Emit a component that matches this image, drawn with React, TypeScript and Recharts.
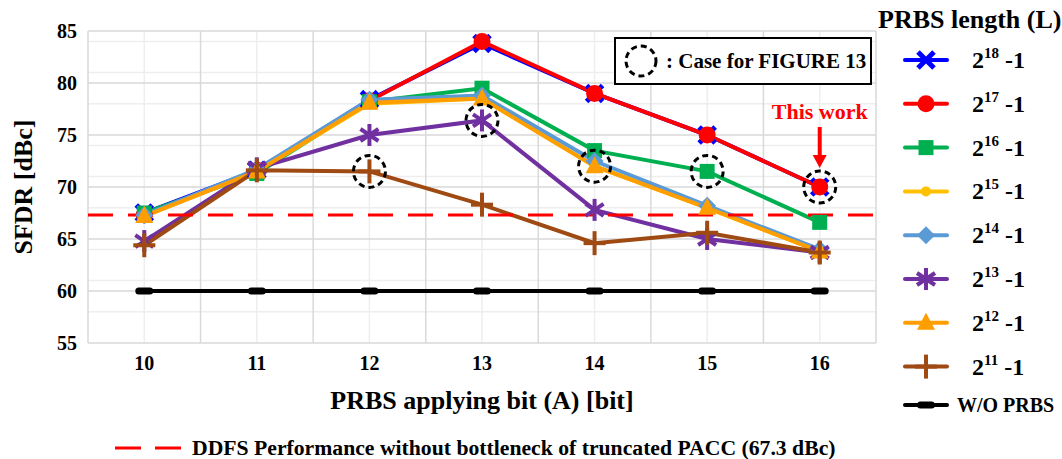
import React from "react";
import { ComposedChart, Line, XAxis, YAxis, CartesianGrid, ReferenceLine, ReferenceDot } from "recharts";

const FONT = '"Liberation Serif", "Times New Roman", serif';

// x categories: PRBS applying bit (A)
const bits = [10, 11, 12, 13, 14, 15, 16];
const bitEdges = [9.5, 10.5, 11.5, 12.5, 13.5, 14.5, 15.5, 16.5];
const yTicks = [55, 60, 65, 70, 75, 80, 85];
const yMinor = [56, 57, 58, 59, 61, 62, 63, 64, 66, 67, 68, 69, 71, 72, 73, 74, 76, 77, 78, 79, 81, 82, 83, 84];

// SFDR [dBc] per PRBS length
const L18 = [67.5, 71.6, 78.4, 83.8, 79.0, 75.0, 70.0];
const L17 = [67.3, 71.6, 78.3, 84.0, 79.0, 75.0, 70.0];
const L16 = [67.5, 71.3, 78.2, 79.5, 73.5, 71.5, 66.6];
const L15 = [67.2, 71.5, 78.0, 78.5, 72.0, 68.0, 63.8];
const L14 = [67.3, 71.7, 78.4, 78.8, 72.5, 68.2, 64.0];
const L13 = [64.8, 71.8, 75.0, 76.4, 67.8, 65.0, 63.7];
const L12 = [67.2, 71.5, 78.1, 78.5, 72.0, 68.0, 63.8];
const L11 = [64.4, 71.6, 71.5, 68.3, 64.6, 65.6, 63.7];
const WO = [60, 60, 60, 60, 60, 60, 60];

const bottleneck = 67.3;

const series = [
  { key: "L18", exp: "18", color: "#0000FF", marker: "x", values: L18 },
  { key: "L17", exp: "17", color: "#FF0000", marker: "circle", values: L17 },
  { key: "L16", exp: "16", color: "#00B050", marker: "square", values: L16 },
  { key: "L15", exp: "15", color: "#FFC000", marker: "dot", values: L15 },
  { key: "L14", exp: "14", color: "#5B9BD5", marker: "diamond", values: L14 },
  { key: "L13", exp: "13", color: "#7030A0", marker: "asterisk", values: L13 },
  { key: "L12", exp: "12", color: "#FF9E00", marker: "triangle", values: L12 },
  { key: "L11", exp: "11", color: "#9E4A12", marker: "plus", values: L11 },
  { key: "WO", exp: "", color: "#000000", marker: "dash", values: WO },
];

// points marked with a dashed circle (cases shown in FIGURE 13)
const circled = [
  { bit: 12, key: "L11" },
  { bit: 13, key: "L13" },
  { bit: 14, key: "L12" },
  { bit: 15, key: "L16" },
  { bit: 16, key: "L17" },
];

const rows = bits.map((bit, i) => {
  const r: any = { bit };
  series.forEach((s) => (r[s.key] = s.values[i]));
  return r;
});

const valueAt = (key: string, bit: number) => {
  const s = series.find((x) => x.key === key)!;
  return s.values[bits.indexOf(bit)];
};

function Marker({ kind, color, cx, cy }: any) {
  switch (kind) {
    case "x":
      return (
        <g stroke={color} strokeWidth={5}>
          <line x1={cx - 8} y1={cy - 8} x2={cx + 8} y2={cy + 8} />
          <line x1={cx - 8} y1={cy + 8} x2={cx + 8} y2={cy - 8} />
        </g>
      );
    case "circle":
      return <circle cx={cx} cy={cy} r={8.5} fill={color} />;
    case "square":
      return <rect x={cx - 7.5} y={cy - 7.5} width={15} height={15} fill={color} />;
    case "dot":
      return <circle cx={cx} cy={cy} r={5} fill={color} />;
    case "diamond":
      return <polygon points={`${cx},${cy - 9} ${cx + 9},${cy} ${cx},${cy + 9} ${cx - 9},${cy}`} fill={color} />;
    case "asterisk":
      return (
        <g stroke={color} strokeWidth={4}>
          <line x1={cx} y1={cy - 11} x2={cx} y2={cy + 11} />
          <line x1={cx - 9} y1={cy - 6} x2={cx + 9} y2={cy + 6} />
          <line x1={cx - 9} y1={cy + 6} x2={cx + 9} y2={cy - 6} />
        </g>
      );
    case "triangle":
      return <polygon points={`${cx},${cy - 10} ${cx + 9},${cy + 7} ${cx - 9},${cy + 7}`} fill={color} />;
    case "plus":
      return (
        <g stroke={color} strokeWidth={4}>
          <line x1={cx - 11} y1={cy} x2={cx + 11} y2={cy} />
          <line x1={cx} y1={cy - 12} x2={cx} y2={cy + 12} />
        </g>
      );
    case "dash":
      return <rect x={cx - 9} y={cy - 3.5} width={18} height={7} rx={3.5} fill={color} />;
    default:
      return null;
  }
}

const dashedCircle = (p: any) => (
  <circle cx={p.cx} cy={p.cy} r={16} fill="none" stroke="#000" strokeWidth={3} strokeDasharray="6 4" />
);

const thisWork = (p: any) => (
  <g>
    <text x={p.cx} y={p.cy - 68} textAnchor="middle" fill="#FF0000" fontSize={22} fontWeight="bold" fontFamily={FONT}>
      This work
    </text>
    <line x1={p.cx} y1={p.cy - 60} x2={p.cx} y2={p.cy - 30} stroke="#FF0000" strokeWidth={4} />
    <polygon points={`${p.cx - 7},${p.cy - 32} ${p.cx + 7},${p.cy - 32} ${p.cx},${p.cy - 19}`} fill="#FF0000" />
  </g>
);

const tickStyle = { fontSize: 20, fontWeight: "bold", fill: "#000", fontFamily: FONT, style: { fontFamily: FONT } };
const titleStyle = { fontSize: 26, fontWeight: "bold", fill: "#000", fontFamily: FONT, textAnchor: "middle" as const };

function Overlay() {
  const legendRows = series.slice(0, 8);
  return (
    <svg width={1062} height={459} style={{ position: "absolute", left: 0, top: 0, pointerEvents: "none" }}>
      <g fontFamily={FONT} fontWeight="bold" fill="#000">
        {/* case box */}
        <rect x={615} y={38} width={256} height={46} fill="#fff" stroke="#000" strokeWidth={2} />
        <circle cx={641} cy={61} r={15} fill="none" stroke="#000" strokeWidth={3} strokeDasharray="6 4" />
        <text x={666} y={68} fontSize={21}>: Case for FIGURE 13</text>

        {/* right legend */}
        <text x={878} y={28} fontSize={26}>PRBS length (L)</text>
        {legendRows.map((s, i) => {
          const y = 60 + i * 43.8;
          return (
            <g key={s.key}>
              <line x1={905} y1={y} x2={947} y2={y} stroke={s.color} strokeWidth={4} strokeLinecap="round" />
              <Marker kind={s.marker} color={s.color} cx={926} cy={y} />
              <text x={972} y={y + 8} fontSize={24}>
                2<tspan fontSize={15} dy={-10}>{s.exp}</tspan>
                <tspan fontSize={24} dy={10}> -1</tspan>
              </text>
            </g>
          );
        })}
        <line x1={905} y1={405} x2={947} y2={405} stroke="#000" strokeWidth={4} strokeLinecap="round" />
        <Marker kind="dash" color="#000" cx={926} cy={405} />
        <text x={957} y={412} fontSize={20}>W/O PRBS</text>

        {/* bottom legend */}
        <line x1={115} y1={448} x2={182} y2={448} stroke="#FF0000" strokeWidth={3} strokeDasharray="26 14" />
        <text x={192} y={455} fontSize={21.7}>DDFS Performance without bottleneck of truncated PACC (67.3 dBc)</text>
      </g>
    </svg>
  );
}

export default function App() {
  return (
    <div
      style={{
        position: "absolute",
        left: 0,
        top: 0,
        width: 1062,
        height: 459,
        background: "#fff",
        fontFamily: FONT,
        fontWeight: "bold",
      }}
    >
      <ComposedChart width={1062} height={459} data={rows} margin={{ top: 31, right: 186, left: 10, bottom: 46 }}>
        <CartesianGrid horizontalValues={yMinor} verticalValues={bits} stroke="#EEEEEE" strokeWidth={1.5} />
        <CartesianGrid horizontalValues={yTicks} verticalValues={bitEdges} stroke="#D9D9D9" strokeWidth={1.5} />
        <XAxis
          dataKey="bit"
          type="number"
          domain={[9.5, 16.5]}
          ticks={bits}
          axisLine={false}
          tickLine={false}
          tickSize={0}
          tickMargin={13}
          height={70}
          tick={tickStyle}
          label={{ value: "PRBS applying bit (A) [bit]", position: "insideBottom", offset: 4, style: titleStyle }}
        />
        <YAxis
          domain={[55, 85]}
          ticks={yTicks}
          axisLine={false}
          tickLine={false}
          tickSize={0}
          tickMargin={11}
          width={78}
          tick={tickStyle}
          label={{ value: "SFDR [dBc]", angle: -90, position: "insideLeft", offset: 13, style: titleStyle }}
        />
        {series.map((s) => (
          <Line
            key={s.key}
            dataKey={s.key}
            type="linear"
            stroke={s.color}
            strokeWidth={4}
            isAnimationActive={false}
            activeDot={false}
            dot={(p: any) => <Marker key={`${s.key}-${p.index}`} kind={s.marker} color={s.color} cx={p.cx} cy={p.cy} />}
          />
        ))}
        <ReferenceLine y={bottleneck} stroke="#FF0000" strokeWidth={3} strokeDasharray="25 15" />
        {circled.map((c) => (
          <ReferenceDot key={`c-${c.bit}`} x={c.bit} y={valueAt(c.key, c.bit)} r={16} shape={dashedCircle} />
        ))}
        <ReferenceDot x={16} y={valueAt("L17", 16)} r={1} shape={thisWork} />
      </ComposedChart>
      <Overlay />
    </div>
  );
}
